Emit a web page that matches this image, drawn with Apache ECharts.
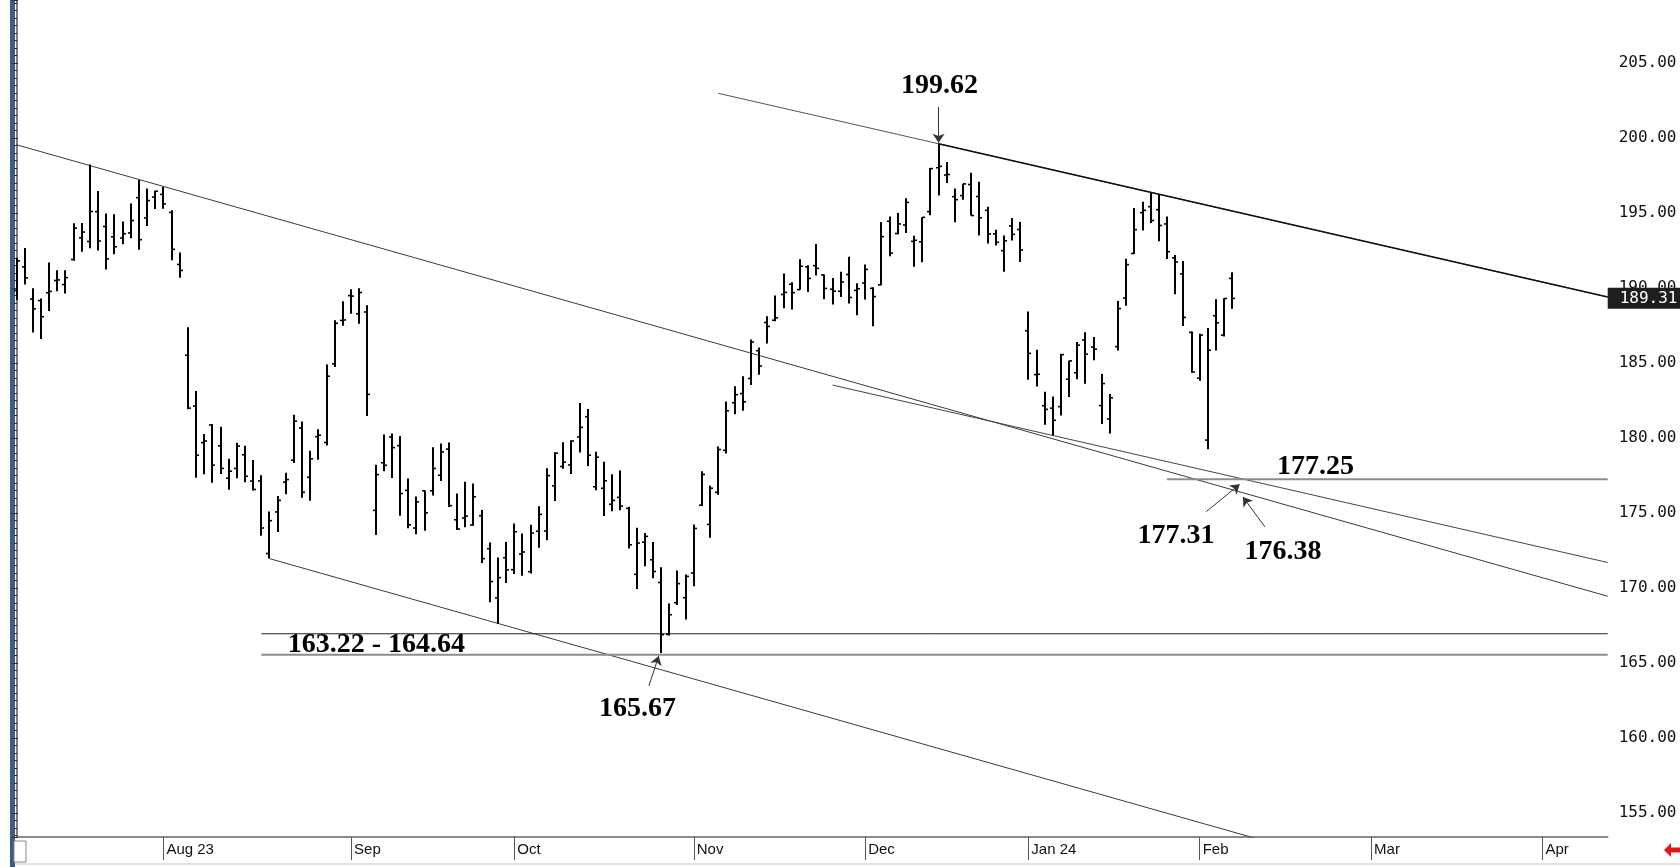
<!DOCTYPE html>
<html>
<head>
<meta charset="utf-8">
<title>Daily bars</title>
<script src="https://cdn.jsdelivr.net/npm/echarts/dist/echarts.min.js"></script>
<style>
  html, body { margin: 0; padding: 0; background: #fff; }
  #barChartMain { width: 1680px; height: 867px; }
</style>
</head>
<body>
<div id="barChartMain"></div>
<script>
// trading days start / last bar / end of the projected axis
const FIRST_DAY = '2023-07-06';
const AXIS_END = '2024-04-11';
const HOLIDAYS = ['2023-07-04', '2023-09-04', '2023-11-23', '2023-12-25', '2024-01-01', '2024-01-15'];
const MONTHS = ['Jan', 'Feb', 'Mar', 'Apr', 'May', 'Jun', 'Jul', 'Aug', 'Sep', 'Oct', 'Nov', 'Dec'];

// OHLC, one entry per trading day from 2023-07-06 to 2024-02-07
const opens = [
  189.84, 191.41, 189.26, 189.16, 189.68, 190.50, 190.23, 191.90, 193.35, 193.10,
  195.09, 194.10, 193.41, 193.33, 193.67, 196.02, 194.67, 196.06, 196.24, 195.04,
  191.57, 185.52, 182.13, 179.69, 180.87, 179.48, 177.32, 177.97, 178.88, 177.13,
  177.14, 172.30, 175.07, 177.06, 178.52, 180.67, 177.38, 180.09, 179.70, 184.94,
  187.84, 189.49, 188.28, 188.40, 175.18, 178.35, 180.07, 179.49, 176.51, 174.00,
  176.48, 176.48, 177.52, 179.26, 174.55, 174.67, 174.20, 174.82, 172.62, 169.34,
  172.02, 171.22, 172.26, 171.09, 173.79, 173.80, 176.81, 178.10, 178.20, 180.07,
  181.42, 176.75, 176.65, 175.58, 176.04, 175.31, 170.91, 173.05, 171.88, 170.37,
  166.91, 169.02, 169.35, 171.00, 175.52, 174.24, 176.38, 179.18, 182.35, 182.96,
  183.97, 185.82, 187.70, 187.85, 189.57, 190.25, 189.89, 191.41, 191.49, 190.87,
  189.92, 189.78, 190.90, 189.84, 190.33, 189.98, 190.21, 194.45, 193.63, 194.20,
  193.11, 193.08, 195.09, 198.02, 197.53, 196.09, 196.16, 196.90, 196.10, 195.18,
  193.61, 192.49, 194.14, 193.90, 187.15, 184.22, 182.15, 181.99, 182.09, 183.92,
  184.35, 186.54, 186.06, 182.16, 181.27, 186.09, 189.33, 192.30, 195.02, 195.42,
  195.22, 194.27, 192.01, 190.94, 187.04, 183.99, 179.86, 188.15, 186.86, 190.64
];
const highs = [
  192.02, 192.67, 189.99, 189.30, 191.70, 191.19, 191.18, 194.32, 194.33, 198.23,
  196.47, 194.97, 194.91, 194.44, 195.64, 197.20, 196.63, 196.49, 196.73, 195.18,
  192.37, 187.38, 183.13, 180.27, 180.93, 180.75, 178.62, 179.69, 179.48, 178.54,
  177.51, 175.10, 176.13, 177.68, 181.55, 181.10, 179.15, 180.59, 184.90, 187.85,
  189.12, 189.92, 189.98, 188.85, 178.21, 180.24, 180.30, 180.13, 177.30, 176.10,
  176.50, 179.38, 179.63, 179.70, 176.30, 177.08, 176.97, 175.20, 173.04, 172.03,
  173.07, 174.30, 173.63, 174.21, 175.45, 177.99, 179.05, 179.72, 179.85, 182.34,
  181.93, 179.08, 178.42, 177.58, 177.84, 175.42, 174.01, 173.67, 173.06, 171.38,
  168.96, 171.17, 170.90, 174.23, 177.78, 176.82, 179.43, 182.44, 183.45, 184.12,
  186.57, 186.03, 188.11, 189.50, 190.96, 190.38, 191.91, 191.52, 192.93, 190.90,
  190.67, 191.08, 192.09, 190.32, 191.56, 190.05, 194.40, 194.76, 195.00, 195.99,
  193.49, 194.72, 198.00, 199.62, 198.40, 196.63, 196.95, 197.68, 197.08, 195.41,
  193.89, 193.50, 194.66, 194.40, 188.44, 185.88, 183.09, 182.76, 185.60, 185.15,
  186.40, 187.05, 186.74, 184.26, 182.93, 189.14, 191.95, 195.33, 195.75, 196.38,
  196.27, 194.76, 192.20, 191.80, 187.10, 186.95, 187.33, 189.25, 189.31, 191.05
];
const lows = [
  189.20, 190.24, 187.04, 186.60, 188.47, 189.78, 189.63, 191.81, 192.42, 192.65,
  192.50, 191.23, 192.25, 192.92, 193.32, 192.55, 194.14, 195.26, 195.28, 191.85,
  190.69, 181.92, 177.35, 177.58, 177.01, 177.60, 176.55, 177.31, 177.05, 176.50,
  173.48, 171.96, 173.74, 176.25, 178.33, 176.01, 175.82, 178.55, 179.50, 184.74,
  187.48, 188.28, 187.61, 181.47, 173.54, 177.79, 177.34, 174.82, 173.98, 173.58,
  173.82, 176.17, 177.13, 175.40, 173.86, 174.05, 174.15, 171.66, 169.05, 167.62,
  170.34, 170.93, 170.82, 170.97, 172.68, 173.18, 175.80, 177.95, 177.60, 179.04,
  178.14, 176.51, 174.80, 175.11, 175.19, 172.64, 169.93, 171.45, 170.65, 165.67,
  166.83, 168.87, 167.90, 170.12, 175.46, 173.35, 176.21, 178.97, 181.59, 181.81,
  183.53, 184.21, 186.30, 187.78, 188.65, 188.57, 189.88, 189.74, 190.83, 189.25,
  188.90, 189.40, 188.97, 188.19, 189.23, 187.45, 190.18, 192.11, 193.59, 193.67,
  191.42, 191.72, 194.85, 196.16, 197.00, 194.39, 195.89, 194.83, 193.50, 192.97,
  192.83, 191.09, 193.17, 191.73, 183.89, 183.43, 180.88, 180.17, 181.50, 182.73,
  183.92, 183.62, 185.19, 180.93, 180.30, 185.83, 188.82, 192.26, 193.83, 194.34,
  193.11, 191.94, 189.58, 187.47, 184.35, 183.82, 179.25, 185.84, 186.77, 188.61
];
const closes = [
  191.81, 190.68, 188.61, 188.08, 189.77, 190.54, 190.69, 193.99, 193.73, 195.10,
  193.13, 191.94, 192.75, 193.62, 194.50, 193.22, 195.83, 196.45, 195.61, 192.58,
  191.17, 181.99, 178.85, 179.80, 178.19, 177.97, 177.79, 179.46, 177.45, 176.57,
  174.00, 174.49, 175.84, 177.23, 181.12, 176.38, 178.61, 180.19, 184.12, 187.65,
  187.87, 189.46, 189.70, 182.91, 177.56, 178.18, 179.36, 176.30, 174.21, 175.74,
  175.01, 177.97, 179.07, 175.49, 173.93, 174.79, 176.08, 171.96, 170.43, 170.69,
  171.21, 173.75, 172.40, 173.66, 174.91, 177.49, 178.99, 178.39, 179.80, 180.71,
  178.85, 178.72, 177.15, 175.84, 175.46, 172.88, 173.00, 173.44, 171.10, 166.89,
  168.22, 170.29, 170.77, 173.97, 177.57, 176.65, 179.23, 181.82, 182.89, 182.41,
  186.40, 184.80, 187.44, 188.01, 189.71, 189.69, 191.45, 190.64, 191.31, 189.97,
  189.79, 190.40, 189.37, 189.95, 191.24, 189.43, 193.42, 192.32, 194.27, 195.71,
  193.18, 194.71, 197.96, 198.11, 197.57, 195.89, 196.94, 194.83, 194.68, 193.60,
  193.05, 193.15, 193.58, 192.53, 185.64, 184.25, 181.91, 181.18, 185.56, 185.14,
  186.19, 185.59, 185.92, 183.63, 182.68, 188.63, 191.56, 193.89, 195.18, 194.50,
  194.17, 192.42, 191.73, 188.04, 184.40, 186.86, 185.85, 187.68, 189.30, 189.31
];
const lastPrice = 189.31;

// trend lines as [bar index, price] pairs
const channelTop = [[0, 199.55], [195, 169.45]];
const channelBottom = [[31, 171.96], [160, 152.05]];
const fallLine = [[86, 202.98], [195, 189.40]];
const fallFromHigh = [[113, 199.62], [195, 189.40]];
const lowerFall = [[100, 183.53], [195, 171.70]];
const level17725 = [[141, 177.25], [195, 177.25]];
const zoneTop = [[30, 166.95], [195, 166.95]];
const zoneBottom = [[30, 165.55], [195, 165.55]];

// annotations: text and where it sits (bar index, price)
const noteTexts = ['199.62', '177.25', '177.31', '176.38', '165.67', '163.22 - 164.64'];
const noteX = [113.1, 159.2, 142.1, 155.2, 76.1, 44.1];
const noteY = [203.47, 178.07, 173.45, 172.42, 161.93, 166.2];
const arrowFrom = [[113, 202.07], [145.8, 175.09], [153, 174.07], [77.5, 163.47]];
const arrowTo = [[113, 199.69], [149.9, 176.91], [150.3, 176.07], [78.7, 165.47]];

// 交易日 + 之后的工作日
const buildDates = () => {
  const out = [];
  const d = new Date(FIRST_DAY + 'T00:00:00Z');
  const end = new Date(AXIS_END + 'T00:00:00Z').getTime();
  while (d.getTime() <= end) {
    const s = d.toISOString().slice(0, 10);
    const dow = d.getUTCDay();
    if (dow !== 0 && dow !== 6 && HOLIDAYS.indexOf(s) < 0) out.push(s);
    d.setUTCDate(d.getUTCDate() + 1);
  }
  return out;
};
const dates = buildDates();
const isMonthStart = (i) => i > 0 && dates[i].slice(5, 7) !== dates[i - 1].slice(5, 7);
const firstLabel = dates.findIndex((d, i) => isMonthStart(i));

const ohlc = closes.map((c, i) => [i, opens[i], highs[i], lows[i], c]);

const renderBar = (params, api) => {
  const i = api.value(0);
  const x = Math.round(api.coord([i, 0])[0]);
  const yO = api.coord([i, api.value(1)])[1];
  const yH = api.coord([i, api.value(2)])[1];
  const yL = api.coord([i, api.value(3)])[1];
  const yC = api.coord([i, api.value(4)])[1];
  const tick = { stroke: '#000', lineWidth: 1.6 };
  return {
    type: 'group',
    children: [
      { type: 'line', shape: { x1: x, y1: yH, x2: x, y2: yL }, style: { stroke: '#000', lineWidth: 2 } },
      { type: 'line', shape: { x1: x - 3, y1: yO, x2: x, y2: yO }, style: tick },
      { type: 'line', shape: { x1: x, y1: yC, x2: x + 3, y2: yC }, style: tick },
    ],
  };
};

const trend = (data, color, width) => ({
  type: 'line',
  xAxisIndex: 1,
  data: data,
  symbol: 'none',
  silent: true,
  lineStyle: { color: color, width: width },
  z: 3,
});

const labelFont = { fontFamily: 'DejaVu Sans Mono', fontSize: 16, color: '#111' };

const initChart = () => {
  const main = document.getElementById('barChartMain');
  const myChart = echarts.init(main);
  const options = {
    animation: false,
    backgroundColor: '#fff',
    grid: { left: 16.5, right: 72.3, top: 0, bottom: 30, containLabel: false, outerBoundsMode: 'none' },
    xAxis: [
      {
        type: 'category',
        data: dates,
        boundaryGap: false,
        axisLine: { show: true, lineStyle: { color: '#666', width: 1.5 } },
        axisTick: {
          show: true,
          interval: (i) => isMonthStart(i),
          length: 23,
          lineStyle: { color: '#555', width: 1 },
        },
        axisLabel: {
          interval: (i) => isMonthStart(i),
          formatter: (val, i) => {
            const m = +val.slice(5, 7) - 1;
            return (m === 0 || i === firstLabel) ? MONTHS[m] + ' ' + val.slice(2, 4) : MONTHS[m];
          },
          align: 'left',
          verticalAlign: 'top',
          margin: 5,
          padding: [0, 0, 0, 3],
          fontFamily: 'Liberation Sans',
          fontSize: 15,
          color: '#111',
        },
        splitLine: { show: false },
      },
      { type: 'value', min: 0, max: 195, show: false },
    ],
    yAxis: [
      {
        type: 'value',
        position: 'right',
        min: 153.4,
        max: 209.2,
        splitNumber: 11,
        axisLine: { show: true, lineStyle: { color: '#555', width: 1.5 } },
        axisTick: { show: true, inside: true, length: 5, lineStyle: { color: '#333' } },
        minorTick: { show: true, splitNumber: 10, length: 2.5, lineStyle: { color: '#333' } },
        splitLine: { show: false },
        axisLabel: Object.assign({
          margin: 11,
          formatter: (v) => (Math.abs(v % 5) < 1e-6 ? v.toFixed(2) : ''),
        }, labelFont),
      },
      {
        type: 'value',
        position: 'left',
        offset: 1.5,
        min: 153.4,
        max: 209.2,
        splitNumber: 11,
        axisLine: { show: false },
        axisTick: { show: true, inside: true, length: 3, lineStyle: { color: '#222' } },
        minorTick: { show: true, splitNumber: 10, length: 2, lineStyle: { color: '#222' } },
        splitLine: { show: false },
        axisLabel: { show: false },
      },
    ],
    graphic: [
      { type: 'rect', shape: { x: 10, y: 0, width: 5, height: 867 }, style: { fill: '#3c5b87' }, silent: true },
      { type: 'rect', shape: { x: 14, y: 841, width: 12, height: 21 }, style: { fill: '#fff', stroke: '#888', lineWidth: 1 }, silent: true },
      { type: 'line', shape: { x1: 15, y1: 864, x2: 1680, y2: 864 }, style: { stroke: '#e2e2e2', lineWidth: 2 }, silent: true },
      {
        type: 'polygon',
        shape: { points: [[1664, 850], [1671, 843], [1671, 847.5], [1680, 847.5], [1680, 852.5], [1671, 852.5], [1671, 857]] },
        style: { fill: '#e8141b' },
        silent: true,
      },
    ],
    series: [
      trend(channelTop, '#3a3a3a', 1),
      trend(channelBottom, '#3a3a3a', 1),
      trend(fallLine, '#555', 1),
      trend(fallFromHigh, '#111', 1.5),
      trend(lowerFall, '#444', 1),
      trend(level17725, '#8c8c8c', 2),
      trend(zoneTop, '#222', 1),
      trend(zoneBottom, '#8c8c8c', 2),
      {
        type: 'custom',
        name: 'ohlc',
        renderItem: renderBar,
        data: ohlc,
        encode: { x: 0, y: [1, 2, 3, 4] },
        silent: true,
        z: 4,
      },
      {
        // 最新价标签
        type: 'line',
        name: 'last',
        data: [],
        silent: true,
        z: 6,
        markLine: {
          silent: true,
          symbol: ['none', 'none'],
          lineStyle: { color: 'rgba(0,0,0,0)', width: 1, type: 'solid' },
          data: [{ yAxis: lastPrice }],
          label: Object.assign({
            show: true,
            position: 'end',
            distance: 0,
            formatter: lastPrice.toFixed(2),
            backgroundColor: '#1e1e1e',
            padding: [3, 30, 2, 12],
          }, labelFont, { color: '#fff' }),
        },
      },
      {
        type: 'line',
        name: 'notes',
        xAxisIndex: 1,
        data: [],
        silent: true,
        z: 5,
        markLine: {
          silent: true,
          symbol: ['none', 'arrow'],
          symbolSize: 9,
          lineStyle: { color: '#333', width: 1, type: 'solid' },
          label: { show: false },
          data: arrowFrom.map((a, k) => [{ coord: a }, { coord: arrowTo[k] }]),
        },
        markPoint: {
          silent: true,
          symbol: 'rect',
          symbolSize: 1,
          itemStyle: { color: 'rgba(0,0,0,0)' },
          label: {
            show: true,
            position: 'inside',
            fontFamily: 'Liberation Serif',
            fontWeight: 'bold',
            fontSize: 28,
            color: '#000',
            formatter: (p) => p.name,
          },
          data: noteTexts.map((t, k) => ({ name: t, coord: [noteX[k], noteY[k]] })),
        },
      },
    ],
  };
  myChart.setOption(options);
  window.onresize = function () {
    myChart.resize();
  };
};
initChart();
</script>
</body>
</html>
